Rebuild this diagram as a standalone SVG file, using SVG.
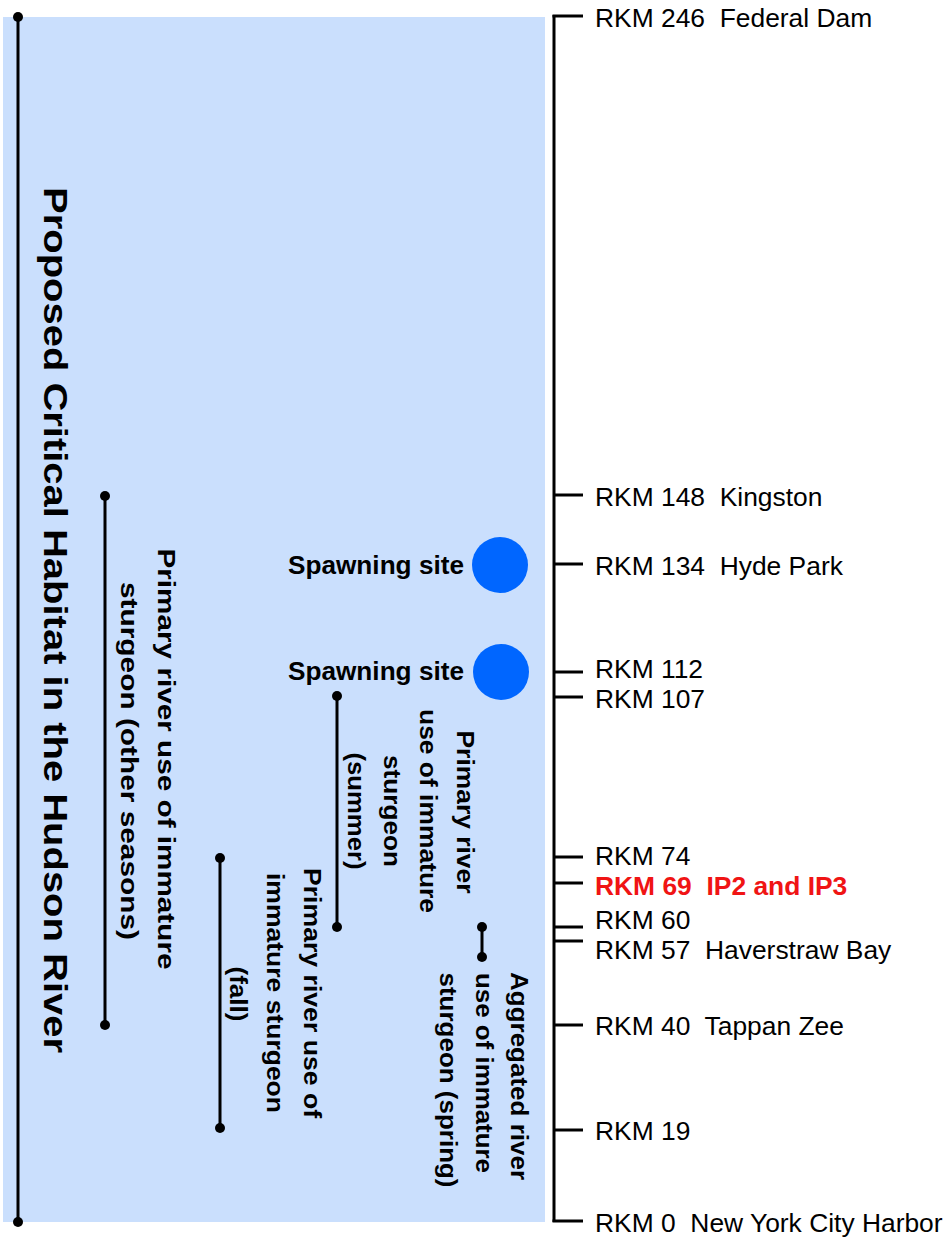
<svg xmlns="http://www.w3.org/2000/svg" width="952" height="1237" viewBox="0 0 952 1237">
<style>
.bg{fill:#cadffd}
.ln{stroke:#000;stroke-width:3;fill:none}
.dot{fill:#000}
.rkm{font-family:"Liberation Sans",Arial,sans-serif;font-size:26.4px;fill:#000;white-space:pre}
.red{font-weight:bold;fill:#f01414}
.rot{font-family:"Liberation Sans",Arial,sans-serif;font-size:24px;font-weight:bold;fill:#000;text-anchor:middle}
.title{font-family:"Liberation Sans",Arial,sans-serif;font-size:34px;font-weight:bold;fill:#000;text-anchor:middle}
.spawn{font-family:"Liberation Sans",Arial,sans-serif;font-size:25px;font-weight:bold;fill:#000}
.site{fill:#0066ff}
</style>
<rect id="habitat-area" class="bg" x="3" y="17" width="542" height="1205"/>

<g id="connectors">
  <line class="ln" x1="18" y1="17" x2="18" y2="1222"/>
  <line class="ln" x1="105" y1="496" x2="105" y2="1025"/>
  <line class="ln" x1="337" y1="696" x2="337" y2="927"/>
  <line class="ln" x1="220" y1="858" x2="220" y2="1128"/>
  <line class="ln" x1="482" y1="927" x2="482" y2="957"/>
  <circle class="dot" cx="18" cy="17" r="5"/>
  <circle class="dot" cx="18" cy="1222" r="5"/>
  <circle class="dot" cx="105" cy="496" r="5"/>
  <circle class="dot" cx="105" cy="1025" r="5"/>
  <circle class="dot" cx="337" cy="696" r="5"/>
  <circle class="dot" cx="337" cy="927" r="5"/>
  <circle class="dot" cx="220" cy="858" r="5"/>
  <circle class="dot" cx="220" cy="1128" r="5"/>
  <circle class="dot" cx="482" cy="927" r="5"/>
  <circle class="dot" cx="482" cy="957" r="5"/>
</g>

<g id="axis">
  <line class="ln" x1="554" y1="15" x2="554" y2="1222"/>
  <line class="ln" x1="552.5" y1="16" x2="583" y2="16"/>
  <line class="ln" x1="554" y1="495" x2="583" y2="495"/>
  <line class="ln" x1="554" y1="564" x2="583" y2="564"/>
  <line class="ln" x1="554" y1="672" x2="583" y2="672"/>
  <line class="ln" x1="554" y1="697" x2="583" y2="697"/>
  <line class="ln" x1="554" y1="857" x2="583" y2="857"/>
  <line class="ln" x1="554" y1="883" x2="583" y2="883"/>
  <line class="ln" x1="554" y1="927" x2="583" y2="927"/>
  <line class="ln" x1="554" y1="941" x2="583" y2="941"/>
  <line class="ln" x1="554" y1="1025" x2="583" y2="1025"/>
  <line class="ln" x1="554" y1="1130" x2="583" y2="1130"/>
  <line class="ln" x1="552.5" y1="1221" x2="583" y2="1221"/>
</g>

<g id="labels-rkm">
  <text class="rkm" x="595" y="27">RKM 246  Federal Dam</text>
  <text class="rkm" x="595" y="506">RKM 148  Kingston</text>
  <text class="rkm" x="595" y="575">RKM 134  Hyde Park</text>
  <text class="rkm" x="595" y="678.2">RKM 112</text>
  <text class="rkm" x="595" y="708">RKM 107</text>
  <text class="rkm" x="595" y="865.2">RKM 74</text>
  <text class="rkm red" x="595" y="895">RKM 69  IP2 and IP3</text>
  <text class="rkm" x="595" y="929">RKM 60</text>
  <text class="rkm" x="595" y="959">RKM 57  Haverstraw Bay</text>
  <text class="rkm" x="595" y="1035">RKM 40  Tappan Zee</text>
  <text class="rkm" x="595" y="1140">RKM 19</text>
  <text class="rkm" x="595" y="1232">RKM 0  New York City Harbor</text>
</g>

<g id="title">
  <text class="title" transform="translate(44,620) rotate(90)" textLength="866" lengthAdjust="spacingAndGlyphs">Proposed Critical Habitat in the Hudson River</text>
</g>

<g id="spawning-site-1">
  <text class="spawn" x="288" y="574" textLength="176" lengthAdjust="spacingAndGlyphs">Spawning site</text>
  <circle class="site" cx="500" cy="565" r="28"/>
</g>
<g id="spawning-site-2">
  <text class="spawn" x="288" y="680" textLength="176" lengthAdjust="spacingAndGlyphs">Spawning site</text>
  <circle class="site" cx="501" cy="672" r="28"/>
</g>

<g id="other-seasons">
  <text class="rot" transform="translate(158,759) rotate(90)" textLength="421" lengthAdjust="spacingAndGlyphs">Primary river use of immature</text>
  <text class="rot" transform="translate(121,761) rotate(90)" textLength="358" lengthAdjust="spacingAndGlyphs">sturgeon (other seasons)</text>
</g>

<g id="summer">
  <text class="rot" transform="translate(457,812) rotate(90)" textLength="163" lengthAdjust="spacingAndGlyphs">Primary river</text>
  <text class="rot" transform="translate(420,811) rotate(90)" textLength="204" lengthAdjust="spacingAndGlyphs">use of immature</text>
  <text class="rot" transform="translate(384,811) rotate(90)" textLength="112" lengthAdjust="spacingAndGlyphs">sturgeon</text>
  <text class="rot" transform="translate(348,811) rotate(90)" textLength="117" lengthAdjust="spacingAndGlyphs">(summer)</text>
</g>

<g id="fall">
  <text class="rot" transform="translate(304,993) rotate(90)" textLength="250" lengthAdjust="spacingAndGlyphs">Primary river use of</text>
  <text class="rot" transform="translate(267,993) rotate(90)" textLength="240" lengthAdjust="spacingAndGlyphs">immature sturgeon</text>
  <text class="rot" transform="translate(230,994) rotate(90)" textLength="55" lengthAdjust="spacingAndGlyphs">(fall)</text>
</g>

<g id="spring">
  <text class="rot" transform="translate(511,1076) rotate(90)" textLength="208" lengthAdjust="spacingAndGlyphs">Aggregated river</text>
  <text class="rot" transform="translate(476,1073) rotate(90)" textLength="200" lengthAdjust="spacingAndGlyphs">use of immature</text>
  <text class="rot" transform="translate(440,1080) rotate(90)" textLength="215" lengthAdjust="spacingAndGlyphs">sturgeon (spring)</text>
</g>
</svg>
